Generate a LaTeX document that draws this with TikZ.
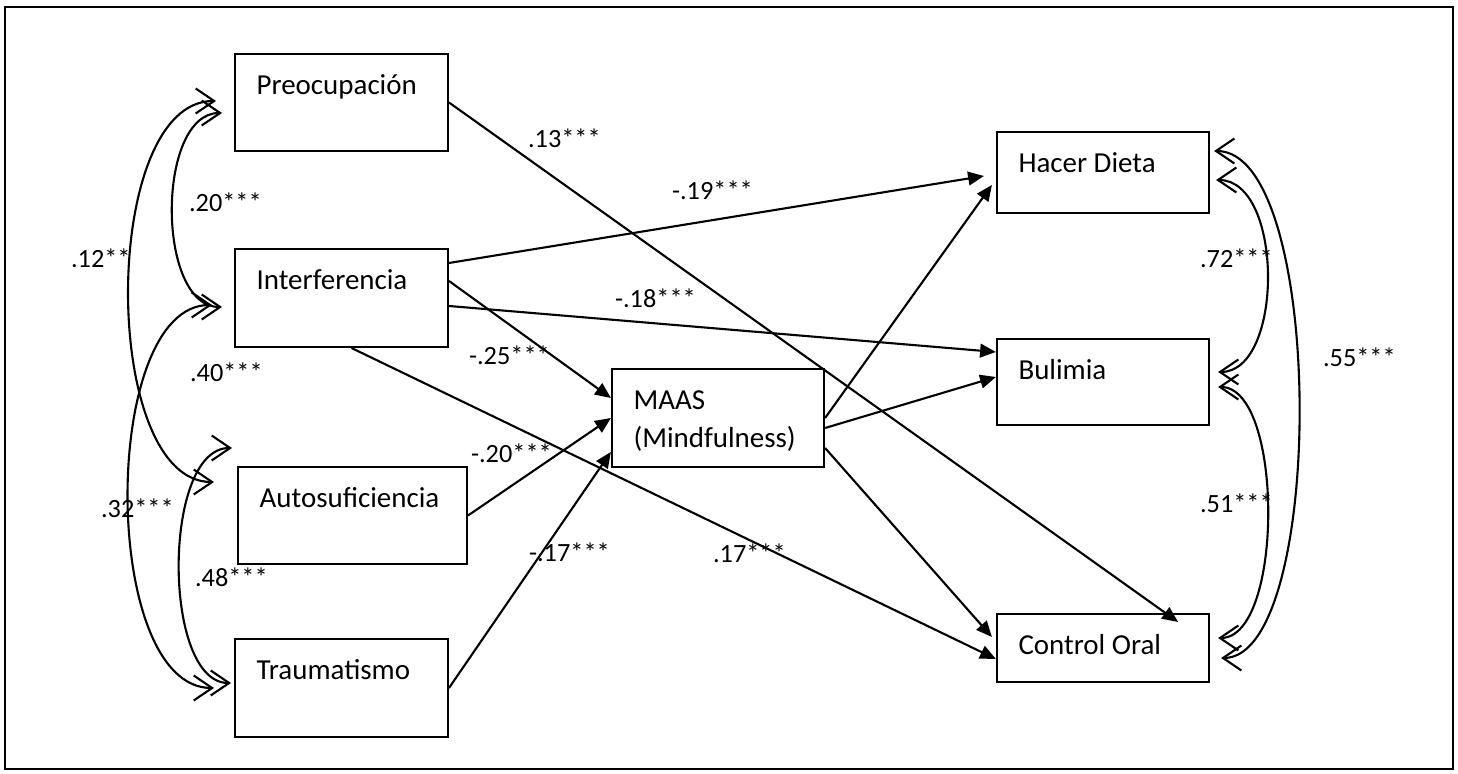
\documentclass[tikz,border=0pt]{standalone}
\usepackage{fontspec}
\setmainfont{Carlito}
\usetikzlibrary{arrows.meta,calc}

\begin{document}
\begin{tikzpicture}[x=0.38pt, y=-0.38pt, line width=0.8pt,
  varbox/.style={draw, rectangle, inner sep=0pt},
  boxtext/.style={anchor=base west, xshift=8.2pt, yshift=-15.9pt, inner sep=0pt, align=left, font=\fontsize{11}{14.4}\selectfont},
  coef/.style={anchor=base west, inner sep=0pt, font=\fontsize{10}{12}\selectfont},
  effect/.style={-{Triangle[length=6pt,width=5.2pt]}},
  covar/.style={{Straight Barb[length=7pt,width=9.5pt]}-{Straight Barb[length=7pt,width=9.5pt]}}]
\useasboundingbox (0,0) rectangle (1458,774);
\draw[line width=1.1pt] (5,7) rectangle (1453,769);
\node[varbox, minimum width=80.9pt, minimum height=36.9pt, label={[boxtext]north west:Preocupación}] (p) at (341.5,102.5) {};
\node[varbox, minimum width=80.9pt, minimum height=37.2pt, label={[boxtext]north west:Interferencia}] (i) at (341.5,298) {};
\node[varbox, minimum width=87pt, minimum height=36.9pt, label={[boxtext]north west:Autosuficiencia}] (au) at (352.5,515.5) {};
\node[varbox, minimum width=80.9pt, minimum height=37.2pt, label={[boxtext]north west:Traumatismo}] (t) at (341.5,688) {};
\node[varbox, minimum width=80.6pt, minimum height=37.2pt, label={[boxtext, yshift=-14.4pt]north west:MAAS\\(Mindfulness)}] (m) at (718,418) {};
\node[varbox, minimum width=80.6pt, minimum height=30.8pt, label={[boxtext]north west:Hacer Dieta}] (hd) at (1103,172.5) {};
\node[varbox, minimum width=80.6pt, minimum height=32.7pt, label={[boxtext]north west:Bulimia}] (b) at (1103,382) {};
\node[varbox, minimum width=80.6pt, minimum height=25.8pt, label={[boxtext]north west:Control Oral}] (co) at (1103,648) {};
\draw[effect] (p.east) -- ($(co.north east)+(-32,9)$);
\draw[effect] ($(i.east)+(0,-35)$) -- ($(hd.west)+(-12,3.5)$);
\draw[effect] ($(i.east)+(0,8)$) -- ($(b.west)+(0,-30)$);
\draw[effect] ($(i.east)+(0,-17)$) -- ($(m.west)+(0,-20)$);
\draw[effect] ($(i.south)+(10,0)$) -- ($(co.west)+(0,11)$);
\draw[effect] (au.east) -- (m.west);
\draw[effect] (t.east) -- ($(m.west)+(0,34)$);
\draw[effect] (m.east) -- ($(hd.west)+(-4,12.5)$);
\draw[effect] ($(m.east)+(0,10)$) -- ($(b.west)+(0,-5)$);
\draw[effect] ($(m.east)+(0,30)$) -- ($(co.west)+(-4,-11)$);
\draw[covar] ($(p.west)+(-12,10.5)$) .. controls (156,113) and (156,307) .. ($(i.west)+(-12,9)$);
\draw[covar] ($(p.west)+(-18,-1.5)$) .. controls (100,101) and (100,482) .. ($(au.west)+(-23,-33.5)$);
\draw[covar] ($(i.west)+(-22,7)$) .. controls (100,305) and (100,688) .. ($(t.west)+(-20,0)$);
\draw[covar] ($(au.west)+(-5,-67.5)$) .. controls (162,448) and (162,683) .. ($(t.west)+(-3,-5)$);
\draw[covar] ($(hd.east)+(6,7.5)$) .. controls (1284,180) and (1284,372) .. ($(b.east)+(8,-10)$);
\draw[covar] ($(b.east)+(8,5)$) .. controls (1284,387) and (1284,638) .. ($(co.east)+(8,-10)$);
\draw[covar] ($(hd.east)+(4,-21.5)$) .. controls (1326,151) and (1326,658) .. ($(co.east)+(11,10)$);
\node[coef] (k1) at (527,148) {.13***};
\node[coef] (k2) at (671,200) {-.19***};
\node[coef] (k3) at (614,308) {-.18***};
\node[coef] (k4) at (468,365) {-.25***};
\node[coef] (k5) at (712,563) {.17***};
\node[coef] (k6) at (470,463) {-.20***};
\node[coef] (k7) at (528,562) {-.17***};
\node[coef] (k8) at (188,212) {.20***};
\node[coef] (k9) at (70,268) {.12**};
\node[coef] (k10) at (189,382) {.40***};
\node[coef] (k11) at (100,518) {.32***};
\node[coef] (k12) at (194,587) {.48***};
\node[coef] (k13) at (1199,268) {.72***};
\node[coef] (k14) at (1322,367) {.55***};
\node[coef] (k15) at (1199,513) {.51***};
\end{tikzpicture}
\end{document}
